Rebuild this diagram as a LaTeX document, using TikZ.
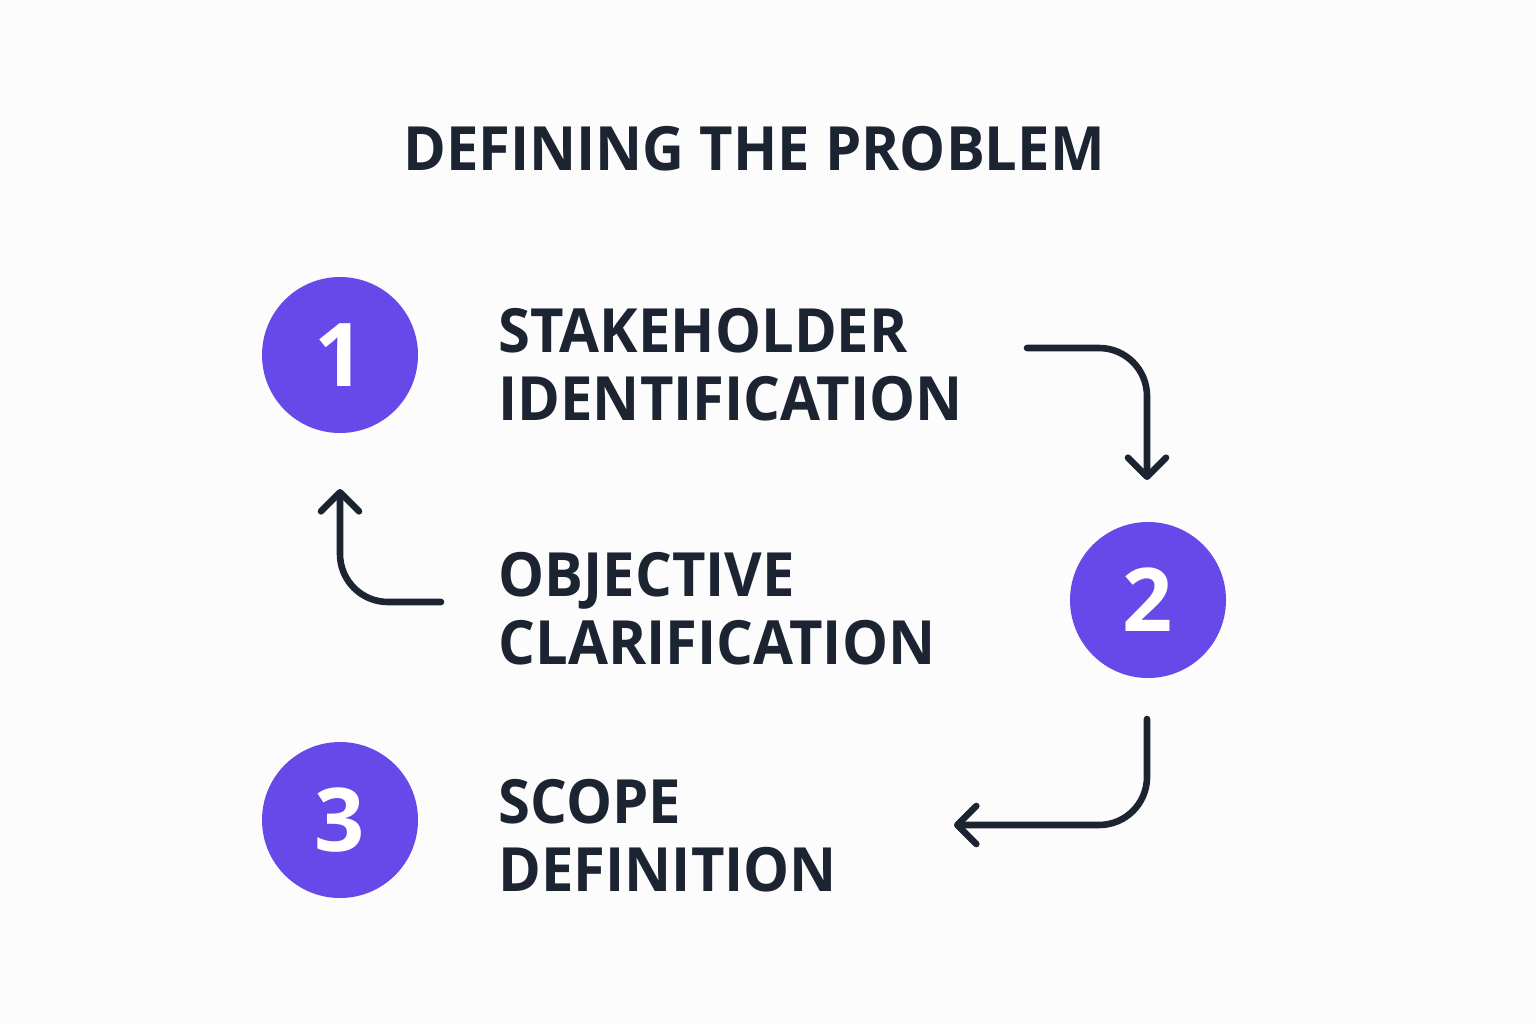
\documentclass[tikz,border=0pt]{standalone}
\usepackage{fontspec}
\setmainfont{Open Sans}
\newfontfamily\lblfont{Open Sans Bold}[FakeStretch=0.95]
\usetikzlibrary{arrows.meta}
\definecolor{bg}{HTML}{FCFCFD}
\definecolor{ink}{HTML}{1C2331}
\definecolor{purp}{HTML}{6649E8}
\begin{document}
\begin{tikzpicture}[x=0.5pt,y=-0.5pt,
  stepcirc/.style={circle,fill=purp,minimum size=78pt,inner sep=0pt,text=white,font=\bfseries\fontsize{44}{44}\selectfont},
  lbl/.style={anchor=base west,inner sep=0pt,text=ink,font=\lblfont\fontsize{30.5}{30.5}\selectfont},
  conn/.style={draw=ink,line width=3.3pt,line cap=round,rounded corners=24pt,-{Straight Barb[length=9.5pt,width=19pt,round]}}]
\fill[bg] (0,0) rectangle (1536,1024);
\useasboundingbox (0,0) rectangle (1536,1024);
\node[anchor=base,inner sep=0pt,text=ink,font=\lblfont\fontsize{30.5}{30.5}\selectfont] (title) at (754,170) {DEFINING THE PROBLEM};
\node[stepcirc] (c1) at (340,355) {1};
\node[stepcirc] (c2) at (1148,600) {2};
\node[stepcirc] (c3) at (340,820) {3};
\node[lbl] (l1a) at (498,352) {STAKEHOLDER};
\node[lbl] (l1b) at (498,420) {IDENTIFICATION};
\node[lbl] (l2a) at (498,596) {OBJECTIVE};
\node[lbl] (l2b) at (498,664) {CLARIFICATION};
\node[lbl] (l3a) at (498,823) {SCOPE};
\node[lbl] (l3b) at (498,891) {DEFINITION};
\coordinate (a1s) at (1027,348);
\coordinate (a1e) at (1147,480);
\coordinate (a2s) at (1147,719);
\coordinate (a2e) at (954,825);
\coordinate (a3s) at (441,602);
\coordinate (a3e) at (340,489);
\draw[conn] (a1s) -| (a1e);
\draw[conn] (a2s) |- (a2e);
\draw[conn] (a3s) -| (a3e);
\end{tikzpicture}
\end{document}
